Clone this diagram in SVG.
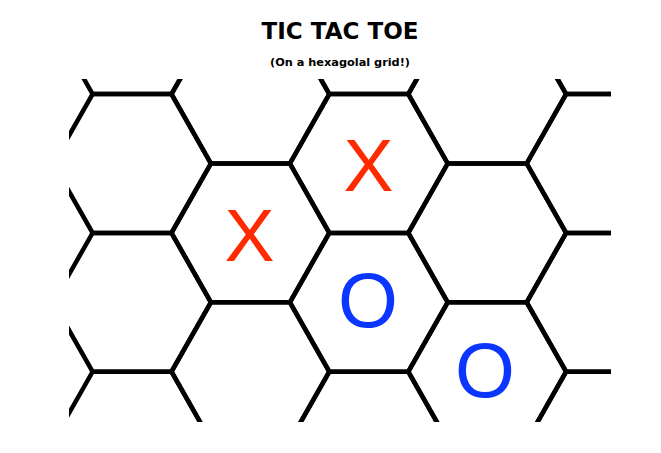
<svg xmlns="http://www.w3.org/2000/svg" xmlns:xlink="http://www.w3.org/1999/xlink" width="661" height="453" viewBox="0 0 661 453">
  <style>
    .cell { fill: none; stroke: #000; stroke-width: 4.5; stroke-linejoin: miter; }
    .title { font-family: "DejaVu Sans", "Liberation Sans", sans-serif; font-weight: 900; fill: #000; text-anchor: middle; }
    .x { font-family: "Liberation Sans", Arial, sans-serif; font-size: 75px; fill: #ff2a00; text-anchor: middle; }
    .o { font-family: "Liberation Sans", Arial, sans-serif; font-size: 77px; fill: #0a36ff; text-anchor: middle; }
  </style>
  <defs>
    <polygon id="hex" points="-39.4,-69.4 39.4,-69.4 78.8,0 39.4,69.4 -39.4,69.4 -78.8,0"/>
    <clipPath id="board">
      <rect x="69" y="79" width="542" height="343"/>
    </clipPath>
  </defs>
  <rect width="661" height="453" fill="#fff"/>

  <g id="title">
    <text class="title" x="340" y="39" font-size="23" textLength="157" lengthAdjust="spacingAndGlyphs">TIC TAC TOE</text>
    <text class="title" x="340" y="66" font-size="10.5" textLength="140" lengthAdjust="spacingAndGlyphs">(On a hexagolal grid!)</text>
  </g>

  <g id="grid" clip-path="url(#board)">
    <g id="c0r0"><use xlink:href="#hex" class="cell" x="132" y="24.7"/></g>
    <g id="c0r1"><use xlink:href="#hex" class="cell" x="132" y="163.5"/></g>
    <g id="c0r2"><use xlink:href="#hex" class="cell" x="132" y="302.3"/></g>
    <g id="c0r3"><use xlink:href="#hex" class="cell" x="132" y="441.1"/></g>

    <g id="c1r0"><use xlink:href="#hex" class="cell" x="250.4" y="94.1"/></g>
    <g id="c1r1"><use xlink:href="#hex" class="cell" x="250.4" y="232.9"/>
      <text class="x" x="249.5" y="261">X</text></g>
    <g id="c1r2"><use xlink:href="#hex" class="cell" x="250.4" y="371.7"/></g>

    <g id="c2r0"><use xlink:href="#hex" class="cell" x="368.8" y="24.7"/></g>
    <g id="c2r1"><use xlink:href="#hex" class="cell" x="368.8" y="163.5"/>
      <text class="x" x="368.5" y="191">X</text></g>
    <g id="c2r2"><use xlink:href="#hex" class="cell" x="368.8" y="302.3"/>
      <text class="o" x="368" y="327">O</text></g>
    <g id="c2r3"><use xlink:href="#hex" class="cell" x="368.8" y="441.1"/></g>

    <g id="c3r0"><use xlink:href="#hex" class="cell" x="487.2" y="94.1"/></g>
    <g id="c3r1"><use xlink:href="#hex" class="cell" x="487.2" y="232.9"/></g>
    <g id="c3r2"><use xlink:href="#hex" class="cell" x="487.2" y="371.7"/>
      <text class="o" x="485" y="397">O</text></g>

    <g id="c4r0"><use xlink:href="#hex" class="cell" x="605.6" y="24.7"/></g>
    <g id="c4r1"><use xlink:href="#hex" class="cell" x="605.6" y="163.5"/></g>
    <g id="c4r2"><use xlink:href="#hex" class="cell" x="605.6" y="302.3"/></g>
    <g id="c4r3"><use xlink:href="#hex" class="cell" x="605.6" y="441.1"/></g>
  </g>
</svg>
